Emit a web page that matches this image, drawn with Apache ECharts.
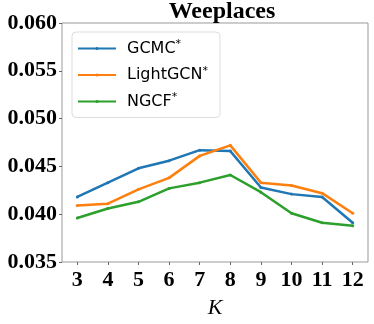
<!DOCTYPE html>
<html lang="en" style="height: 100%">
<head>
  <meta charset="utf-8">
  <title>weeplaces</title>
  <script src="https://cdn.jsdelivr.net/npm/echarts@6/dist/echarts.min.js"></script>
</head>
<body style="height: 100%; margin: 0; background: #fff">
  <div id="container" style="width: 374px; height: 324px"></div>
  <script type="text/javascript">
    var kValues = ['3', '4', '5', '6', '7', '8', '9', '10', '11', '12'];
    var gcmc = [0.0418, 0.0433, 0.0448, 0.0456, 0.0467, 0.0466, 0.0428, 0.0421, 0.0418, 0.0391];
    var lightgcn = [0.0409, 0.0411, 0.0426, 0.0438, 0.0461, 0.0472, 0.0433, 0.0430, 0.0422, 0.0401];
    var ngcf = [0.0396, 0.0406, 0.0413, 0.0427, 0.0433, 0.0441, 0.0423, 0.0401, 0.0391, 0.0388];
    var yTicks = [0.035, 0.040, 0.045, 0.050, 0.055, 0.060];

    var dom = document.getElementById('container');
    var myChart = echarts.init(dom, null, { renderer: 'canvas' });

    function makeSeries(name, data, color) {
      return {
        name: name,
        type: 'line',
        data: data,
        symbol: 'circle',
        symbolSize: 3,
        showSymbol: true,
        itemStyle: { color: color },
        lineStyle: { color: color, width: 2.5 },
        animation: false
      };
    }

    var option = {
      backgroundColor: '#fff',
      title: {
        text: 'Weeplaces',
        left: 217,
        top: -5,
        textAlign: 'center',
        textStyle: { fontFamily: 'Liberation Serif', fontWeight: 'bold', fontSize: 24, color: '#000' }
      },
      grid: {
        left: 62, right: 6, top: 23, bottom: 53,
        show: true, borderColor: '#999', borderWidth: 1
      },
      legend: {
        orient: 'vertical',
        left: 72,
        top: 32,
        padding: [7, 12, 8, 5],
        itemGap: 9,
        itemWidth: 38,
        itemHeight: 4,
        borderColor: '#ddd',
        borderWidth: 1,
        borderRadius: 4,
        backgroundColor: '#fff',
        formatter: function (name) { return '{n|' + name + '}{s|*}'; },
        textStyle: {
          rich: {
            n: { fontFamily: 'DejaVu Sans', fontSize: 16, color: '#000', padding: [0, 0, 0, 6] },
            s: { fontFamily: 'DejaVu Sans', fontSize: 11, color: '#000', verticalAlign: 'top', padding: [0, 0, 8, 0] }
          }
        },
        data: ['GCMC', 'LightGCN', 'NGCF']
      },
      xAxis: {
        type: 'category',
        data: kValues,
        boundaryGap: true,
        name: 'K',
        nameLocation: 'middle',
        nameGap: 35,
        nameTextStyle: { fontFamily: 'Liberation Serif', fontStyle: 'italic', fontSize: 22, color: '#000' },
        axisLine: { show: false },
        axisTick: { show: true, alignWithLabel: true, length: 3, lineStyle: { color: '#666' } },
        axisLabel: { fontFamily: 'Liberation Serif', fontWeight: 'bold', fontSize: 22, color: '#000', margin: 7 },
        splitLine: { show: false }
      },
      yAxis: {
        type: 'value',
        min: 0.035,
        max: 0.060,
        interval: 0.005,
        axisLine: { show: false },
        axisTick: { show: true, length: 3, lineStyle: { color: '#666' } },
        axisLabel: {
          fontFamily: 'Liberation Serif', fontWeight: 'bold', fontSize: 22, color: '#000', margin: 5,
          formatter: function (v) { return v.toFixed(3); }
        },
        splitLine: { show: false }
      },
      series: [
        makeSeries('GCMC', gcmc, '#1f77b4'),
        makeSeries('LightGCN', lightgcn, '#ff7f0e'),
        makeSeries('NGCF', ngcf, '#2ca02c')
      ]
    };

    myChart.setOption(option);
    window.addEventListener('resize', myChart.resize);
  </script>
</body>
</html>
